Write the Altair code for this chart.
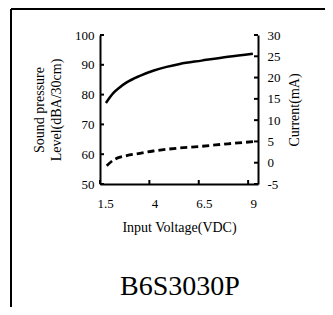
import altair as alt
import pandas as pd

# Sound pressure level (left axis)
v_spl = [1.8, 2.17, 2.51, 2.85, 3.52, 4.19, 4.87, 5.54, 6.64, 7.98, 9.24]
spl = [77.2, 80.5, 82.5, 84.1, 86.3, 88.0, 89.3, 90.3, 91.4, 92.7, 93.7]

# Current (right axis)
v_cur = [1.84, 2.17, 2.85, 3.52, 4.19, 4.87, 5.5, 6.64, 7.98, 9.3]
cur = [-0.7, 0.6, 1.65, 2.2, 2.75, 3.15, 3.45, 3.85, 4.45, 4.95]

x_ticks = [1.5, 4, 6.5, 9]
left_ticks = [50, 60, 70, 80, 90, 100]
right_ticks = [-5, 0, 5, 10, 15, 20, 25, 30]
model_name = ["B6S3030P"]

FONT = "Liberation Serif"
W, H = 158, 149

df_spl = pd.DataFrame({"V": v_spl, "v": spl})
df_cur = pd.DataFrame({"V": v_cur, "v": cur})
df_xt = pd.DataFrame({"V": x_ticks})
df_lt = pd.DataFrame({"v": left_ticks})
df_rt = pd.DataFrame({"v": right_ticks})
df_name = pd.DataFrame({"name": model_name})

common_axis = dict(tickSize=0, domainWidth=2, domainColor="black", grid=False,
                   labelFont=FONT, labelFontSize=13, labelColor="black",
                   titleFont=FONT, titleFontSize=14, titleColor="black",
                   titleFontWeight="normal", labelExpr="'' + datum.value")

x_enc = alt.X("V:Q", scale=alt.Scale(domain=[1.5, 9.5], nice=False, zero=False),
              axis=alt.Axis(values=x_ticks, labelPadding=13, labelOffset=5,
                            title="Input Voltage(VDC)", titlePadding=10,
                            labelFlush=False, **common_axis))

yl_enc = alt.Y("v:Q", scale=alt.Scale(domain=[50, 100], nice=False, zero=False),
               axis=alt.Axis(values=left_ticks, labelPadding=6,
                             title=["Sound pressure", "Level(dBA/30cm)"],
                             titlePadding=11, titleLineHeight=17,
                             labelFlush=False, **common_axis))

yr_enc = alt.Y("v:Q", scale=alt.Scale(domain=[-5, 30], nice=False, zero=False),
               axis=alt.Axis(values=right_ticks, orient="right", labelPadding=9,
                             title="Current(mA)", titlePadding=7, titleAngle=270,
                             titleBaseline="top",
                             labelFlush=False, **common_axis))

spl_line = alt.Chart(df_spl).mark_line(color="black", strokeWidth=2.5,
                                       interpolate="monotone").encode(x=x_enc, y=yl_enc)
lt = alt.Chart(df_lt).mark_rule(color="black", strokeWidth=2).encode(
    y=yl_enc, x=alt.value(0), x2=alt.value(4))
xt = alt.Chart(df_xt).mark_rule(color="black", strokeWidth=2).encode(
    x=x_enc, y=alt.value(H), y2=alt.value(H - 4))

cur_line = alt.Chart(df_cur).mark_line(color="black", strokeWidth=2.8, strokeDash=[7, 4],
                                       interpolate="monotone").encode(x=x_enc, y=yr_enc)
rt = alt.Chart(df_rt).mark_rule(color="black", strokeWidth=2).encode(
    y=yr_enc, x=alt.value(W), x2=alt.value(W - 4))

frame_data = alt.Data(values=[{"a": 1}])
frame_left = alt.Chart(frame_data).mark_rule(color="black", strokeWidth=2).encode(
    x=alt.value(-89), y=alt.value(-26), y2=alt.value(280))
frame_top = alt.Chart(frame_data).mark_rule(color="black", strokeWidth=2).encode(
    x=alt.value(-89), x2=alt.value(240), y=alt.value(-26))

name_text = alt.Chart(df_name).mark_text(font=FONT, fontSize=28, color="black",
                                         align="center", baseline="alphabetic").encode(
    text="name:N", x=alt.value(W / 2 + 1), y=alt.value(260))

left = alt.layer(spl_line, lt, xt)
right = alt.layer(cur_line, rt)

chart = alt.layer(left, right, frame_left, frame_top, name_text).resolve_scale(
    y="independent").properties(
    width=W, height=H,
    autosize=alt.AutoSizeParams(type="none"),
    padding={"left": 92, "top": 27, "right": 67, "bottom": 123},
).configure_view(stroke=None)

chart.save("out.html", embed_options={"renderer": "svg", "actions": False})
